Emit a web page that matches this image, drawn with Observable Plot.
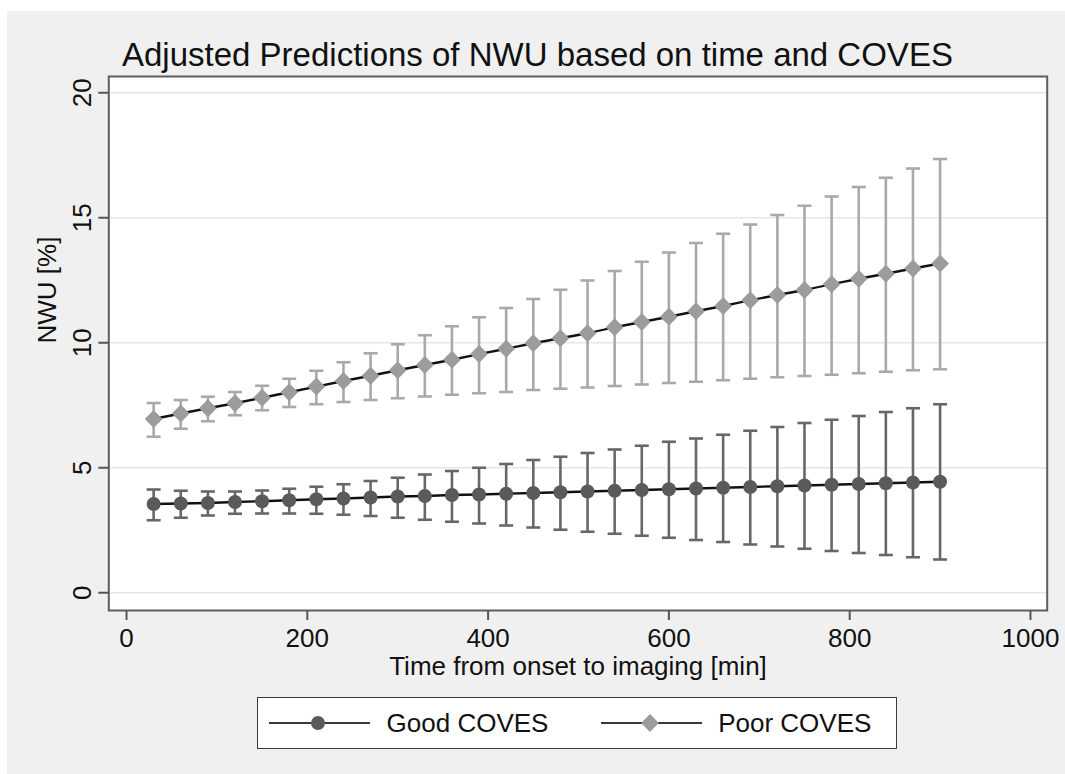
<!DOCTYPE html>
<html>
<head>
<meta charset="utf-8">
<script src="https://cdn.jsdelivr.net/npm/d3@7"></script>
<script src="https://cdn.jsdelivr.net/npm/@observablehq/plot@0.6"></script>
<style>
  html, body { margin: 0; padding: 0; background: #ffffff; }
  body { width: 1065px; height: 774px; overflow: hidden; font-family: "Liberation Sans", Arial, Helvetica, sans-serif; color: #111; }
  #wrap { position: absolute; left: 7px; top: 11px; width: 1058px; height: 763px; background: #f0f0f0; }
  #title { box-sizing: border-box; height: 60px; padding-top: 27px; padding-left: 115px; font-size: 33px; line-height: 33px; white-space: nowrap; color: #111; }
  #chart svg { display: block; }
  #legend { position: relative; box-sizing: border-box; margin-top: 6px; margin-left: 250px; width: 640px; height: 52px; border: 1.5px solid #3c3c3c; background: #fff; }
  #legend .sw { position: absolute; top: 14.5px; }
  #legend .lab { position: absolute; top: 12px; font-size: 26px; line-height: 26px; white-space: nowrap; color: #111; }
</style>
</head>
<body>
<div id="wrap">
  <div id="title"></div>
  <div id="chart"></div>
  <div id="legend"></div>
</div>
<script>
// ---- data ----
const titleText = "Adjusted Predictions of NWU based on time and COVES";
const xLabel = "Time from onset to imaging [min]";
const yLabel = "NWU [%]";
const seriesNames = ["Good COVES", "Poor COVES"];
const xTicks = [0, 200, 400, 600, 800, 1000];
const yTicks = [0, 5, 10, 15, 20];

const times = [30, 60, 90, 120, 150, 180, 210, 240, 270, 300, 330, 360, 390, 420, 450,
               480, 510, 540, 570, 600, 630, 660, 690, 720, 750, 780, 810, 840, 870, 900];

const goodMean  = [3.55, 3.57, 3.59, 3.63, 3.66, 3.70, 3.74, 3.77, 3.81, 3.85, 3.87, 3.91, 3.93, 3.96, 3.99,
                   4.02, 4.05, 4.08, 4.11, 4.14, 4.17, 4.20, 4.23, 4.26, 4.29, 4.32, 4.35, 4.38, 4.41, 4.44];
const goodUpper = [4.13, 4.08, 4.05, 4.05, 4.09, 4.16, 4.24, 4.34, 4.47, 4.60, 4.73, 4.87, 5.00, 5.15, 5.31,
                   5.44, 5.59, 5.73, 5.88, 6.04, 6.17, 6.32, 6.48, 6.63, 6.79, 6.92, 7.07, 7.23, 7.38, 7.54];
const goodLower = [2.90, 3.00, 3.09, 3.16, 3.17, 3.17, 3.16, 3.12, 3.07, 3.00, 2.92, 2.84, 2.77, 2.69, 2.61,
                   2.52, 2.44, 2.36, 2.28, 2.20, 2.11, 2.03, 1.93, 1.85, 1.76, 1.67, 1.59, 1.51, 1.42, 1.33];

const poorMean  = [6.95, 7.17, 7.38, 7.58, 7.80, 8.02, 8.25, 8.47, 8.68, 8.90, 9.11, 9.32, 9.55, 9.76, 9.98,
                   10.18, 10.38, 10.62, 10.83, 11.04, 11.26, 11.47, 11.70, 11.91, 12.11, 12.34, 12.56, 12.76, 12.97, 13.17];
const poorUpper = [7.59, 7.71, 7.84, 8.03, 8.28, 8.56, 8.88, 9.22, 9.58, 9.94, 10.30, 10.66, 11.02, 11.39, 11.75,
                   12.12, 12.49, 12.87, 13.24, 13.61, 13.99, 14.36, 14.73, 15.11, 15.48, 15.85, 16.23, 16.60, 16.97, 17.35];
const poorLower = [6.24, 6.56, 6.86, 7.10, 7.30, 7.43, 7.54, 7.63, 7.71, 7.78, 7.85, 7.92, 7.98, 8.03, 8.11,
                   8.16, 8.21, 8.27, 8.33, 8.39, 8.44, 8.50, 8.56, 8.62, 8.67, 8.72, 8.78, 8.84, 8.90, 8.94];

// ---- build tables ----
const good = times.map((t, i) => ({series: seriesNames[0], t, mean: goodMean[i], lo: goodLower[i], hi: goodUpper[i]}));
const poor = times.map((t, i) => ({series: seriesNames[1], t, mean: poorMean[i], lo: poorLower[i], hi: poorUpper[i]}));

// styles
const FONT = '"Liberation Sans", Arial, Helvetica, sans-serif';
const style = {
  good: {marker: "#5a5a5a", ci: "#676767", symbol: "circle", r: 7},
  poor: {marker: "#9c9c9c", ci: "#a9a9a9", symbol: "diamond2", r: 8}
};
const capSymbol = {
  draw(context, size) {
    const w = Math.sqrt(size / Math.PI);
    context.moveTo(-w, 0);
    context.lineTo(w, 0);
  }
};

function ciMarks(data, st) {
  return [
    Plot.ruleX(data, {x: "t", y1: "lo", y2: "hi", stroke: st.ci, strokeWidth: 2.6}),
    Plot.dot(data, {x: "t", y: "lo", symbol: capSymbol, r: 7, fill: "none", stroke: st.ci, strokeWidth: 2.6}),
    Plot.dot(data, {x: "t", y: "hi", symbol: capSymbol, r: 7, fill: "none", stroke: st.ci, strokeWidth: 2.6})
  ];
}
function lineMarks(data, st) {
  return [
    Plot.line(data, {x: "t", y: "mean", stroke: "#111", strokeWidth: 2.3}),
    Plot.dot(data, {x: "t", y: "mean", symbol: st.symbol, r: st.r, fill: st.marker, stroke: "none"})
  ];
}

document.getElementById("title").textContent = titleText;

const chart = Plot.plot({
  width: 1058,
  height: 620,
  marginLeft: 101.3,
  marginRight: 18.3,
  marginTop: 5,
  marginBottom: 81,
  style: {background: "transparent", fontFamily: FONT, fontSize: "26px", color: "#111", overflow: "visible"},
  x: {domain: [-19.6, 1018.5]},
  y: {domain: [-0.71, 20.65]},
  marks: [
    Plot.frame({fill: "#ffffff", stroke: "none"}),
    Plot.ruleY(yTicks, {stroke: "#e6e6e6", strokeWidth: 1.6}),
    ...ciMarks(good, style.good),
    ...ciMarks(poor, style.poor),
    ...lineMarks(good, style.good),
    ...lineMarks(poor, style.poor),
    Plot.frame({stroke: "#5e5e5e", strokeWidth: 2}),
    Plot.axisX({ticks: xTicks, tickFormat: d => String(d), tickSize: 10, tickPadding: 8, fontSize: 26, label: null, stroke: "#555", strokeWidth: 2, fill: "#111"}),
    Plot.axisY({ticks: yTicks, tickFormat: d => String(d), tickSize: 10, tickPadding: 8, tickRotate: -90, fontSize: 26, label: null, stroke: "#555", strokeWidth: 2, fill: "#111"}),
    Plot.text([xLabel], {text: d => d, frameAnchor: "bottom", dy: 46.5, lineAnchor: "top", fontSize: 26, fill: "#111"}),
    Plot.text([yLabel], {text: d => d, frameAnchor: "left", dx: -61.3, rotate: -90, lineAnchor: "middle", fontSize: 26, fill: "#111"})
  ]
});
document.getElementById("chart").appendChild(chart);

// ---- legend ----
const legend = document.getElementById("legend");
const items = [
  {name: seriesNames[0], st: style.good, lineLeft: 10.7, textLeft: 128.6},
  {name: seriesNames[1], st: style.poor, lineLeft: 343.2, textLeft: 460.2}
];
for (const it of items) {
  const sw = d3.create("svg").attr("class", "sw").attr("width", 101).attr("height", 20)
    .style("left", it.lineLeft + "px");
  sw.append("line").attr("x1", 0).attr("x2", 101).attr("y1", 10).attr("y2", 10)
    .attr("stroke", "#3a3a3a").attr("stroke-width", 2.2);
  const sym = it.st.symbol === "circle" ? d3.symbolCircle : d3.symbolDiamond2;
  sw.append("path").attr("transform", "translate(49,10)")
    .attr("d", d3.symbol(sym, Math.PI * it.st.r * it.st.r)())
    .attr("fill", it.st.marker);
  legend.appendChild(sw.node());
  const lab = document.createElement("div");
  lab.className = "lab";
  lab.style.left = it.textLeft + "px";
  lab.textContent = it.name;
  legend.appendChild(lab);
}
</script>
</body>
</html>
